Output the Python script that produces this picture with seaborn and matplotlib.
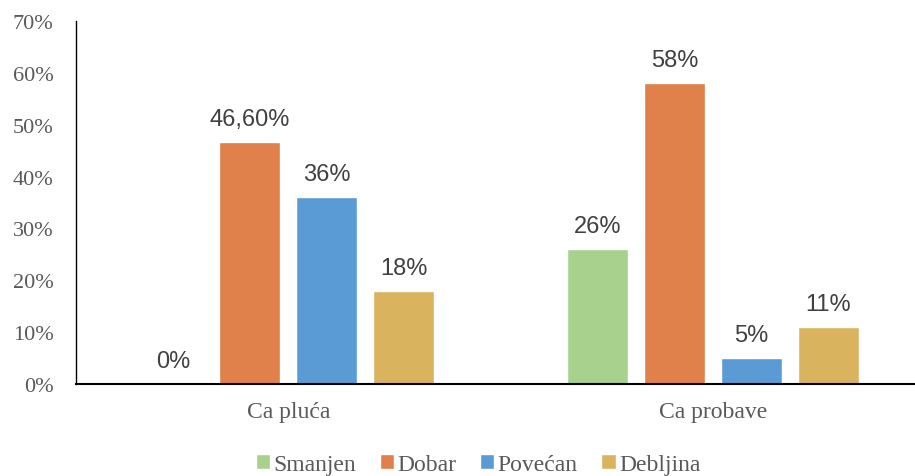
import pandas as pd
import numpy as np
import matplotlib.pyplot as plt
import seaborn as sns

# data
categories = ["Ca pluća", "Ca probave"]
groups = ["Smanjen", "Dobar", "Povećan", "Debljina"]
smanjen = [0, 26]
dobar = [46.6, 58]
povecan = [36, 5]
debljina = [18, 11]
label_text = {
    "Smanjen": ["0%", "26%"],
    "Dobar": ["46,60%", "58%"],
    "Povećan": ["36%", "5%"],
    "Debljina": ["18%", "11%"],
}
y_ticks = [0, 10, 20, 30, 40, 50, 60, 70]

colors = ["#A9D18E", "#E0804A", "#5B9BD5", "#D9B35E"]

df = pd.DataFrame({
    "category": categories * 4,
    "group": np.repeat(groups, 2),
    "value": smanjen + dobar + povecan + debljina,
})

sns.set_style("white")
serif = ["Liberation Serif", "DejaVu Serif"]
sans = ["Liberation Sans", "DejaVu Sans"]

fig = plt.figure(figsize=(9.15, 4.77), dpi=100)
ax = fig.add_axes([0.083, 0.193, 0.928, 0.761])

sns.barplot(data=df, x="category", y="value", hue="group", hue_order=groups,
            palette=colors, width=0.725, gap=0.21, saturation=1, ax=ax,
            errorbar=None)

for cont, g in zip(ax.containers, groups):
    ax.bar_label(cont, labels=label_text[g], padding=8.5, fontsize=17,
                 color="#404040", family=sans)

ax.set_xlim(-0.5, 1.5)
ax.set_ylim(0, 70)
ax.set_yticks(y_ticks)
ax.set_yticklabels([f"{t}%" for t in y_ticks], family=serif, fontsize=16, color="#595959")
ax.set_xticks([0, 1])
ax.set_xticklabels(categories, family=serif, fontsize=17, color="#595959")
ax.tick_params(axis="y", length=0, pad=16)
ax.tick_params(axis="x", length=0, pad=12)
ax.set_xlabel("")
ax.set_ylabel("")

for s in ["top", "right"]:
    ax.spines[s].set_visible(False)
ax.spines["left"].set_color("black")
ax.spines["left"].set_linewidth(1.0)
ax.spines["bottom"].set_color("black")
ax.spines["bottom"].set_linewidth(1.5)

handles, labels = ax.get_legend_handles_labels()
ax.legend_.remove()
fig.legend(handles, labels, loc="lower center", bbox_to_anchor=(0.5225, 0.0),
           ncol=4, frameon=False, handlelength=0.6, handleheight=0.6,
           handletextpad=0.15, columnspacing=1.0, borderaxespad=0, borderpad=0.05,
           prop={"family": serif, "size": 17}, labelcolor="#595959")

plt.savefig("out.png", dpi=100)
plt.close()
